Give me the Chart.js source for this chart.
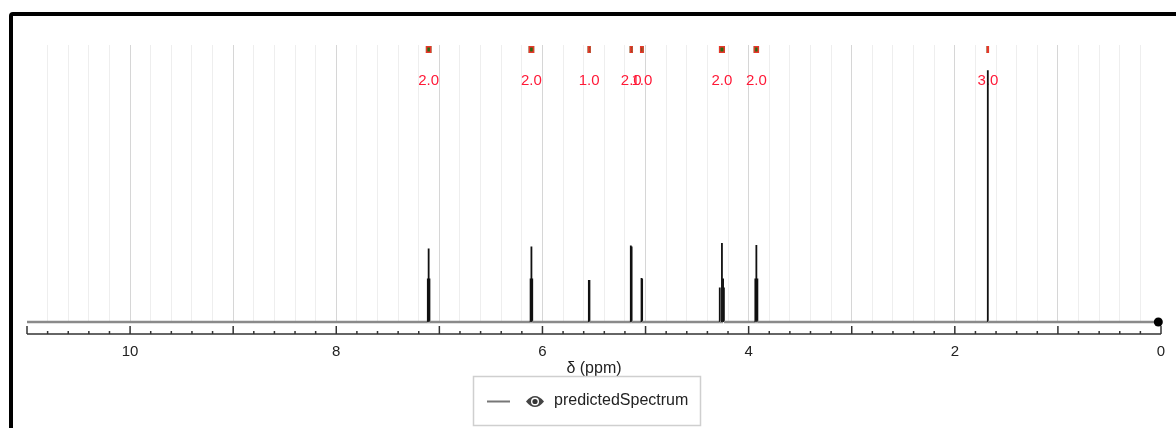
<!DOCTYPE html>
<html>
<head>
<meta charset="utf-8">
<script src="https://cdn.jsdelivr.net/npm/chart.js@4.4.1/dist/chart.umd.min.js"></script>
<style>
  html, body { margin: 0; padding: 0; background: #fff; overflow: hidden; }
  #frame {
    position: absolute; left: 9px; top: 12px; width: 1250px; height: 500px;
    border: 4px solid #000; border-radius: 4px;
  }
  #nmr { position: absolute; left: 0; top: 0; z-index: 1; }
</style>
</head>
<body>
<div id="frame"></div>
<canvas id="nmr" width="1176" height="428"></canvas>
<script>
// predicted 1H spectrum, sticks (ppm / relative intensity)
const peakPpm = [7.112, 7.104, 7.096, 6.115, 6.107, 6.099, 5.550, 5.544, 5.143, 5.135, 5.039, 5.033,
  4.280, 4.259, 4.248, 4.240, 3.935, 3.925, 3.915, 1.680];
const peakHeight = [0.173, 0.292, 0.173, 0.173, 0.300, 0.173, 0.167, 0.167, 0.304, 0.300, 0.175, 0.172,
  0.137, 0.314, 0.173, 0.137, 0.173, 0.306, 0.173, 1.000];

// integration ranges + values
const integralFrom = [7.131, 6.134, 5.562, 5.154, 5.054, 4.288, 3.951, 1.692];
const integralTo = [7.077, 6.080, 5.532, 5.124, 5.018, 4.230, 3.899, 1.668];
const integralLabel = ["2.0", "2.0", "1.0", "2.0", "1.0", "2.0", "2.0", "3.0"];

const ppmStart = 11;
const ppmEnd = 0.026; // reference dot
const seriesName = "predictedSpectrum";
const axisTitle = "δ (ppm)";

const FONT = "'Liberation Sans', Arial, sans-serif";

// build stick spectrum from the peaks
const points = [{ x: ppmStart, y: 0 }];
peakPpm.forEach((p, i) => {
  points.push({ x: p, y: 0 }, { x: p, y: peakHeight[i] }, { x: p, y: 0 });
});
points.push({ x: ppmEnd, y: 0 });
const lastIdx = points.length - 1;

const integralPlugin = {
  id: "integrals",
  beforeDatasetsDraw(chart) {
    const { ctx, scales: { x } } = chart;
    ctx.save();
    integralFrom.forEach((f, i) => {
      const x1 = x.getPixelForValue(f);
      const x2 = x.getPixelForValue(integralTo[i]);
      ctx.fillStyle = "#2a6b12";
      ctx.strokeStyle = "#e8362a";
      ctx.lineWidth = 1.5;
      ctx.fillRect(x1, 46, x2 - x1, 7);
      ctx.strokeRect(x1 + 0.75, 46.75, x2 - x1 - 1.5, 5.5);
      ctx.fillStyle = "rgb(255,25,55)";
      ctx.font = "15px " + FONT;
      ctx.textAlign = "center";
      ctx.textBaseline = "middle";
      ctx.fillText(integralLabel[i], (x1 + x2) / 2, 81);
    });
    ctx.restore();
  },
  afterDraw(chart) {
    const { ctx, scales: { x } } = chart;
    ctx.save();
    // axis line with inward ticks
    const y0 = 334;
    ctx.strokeStyle = "#333";
    ctx.lineWidth = 1.5;
    ctx.beginPath();
    ctx.moveTo(x.left, y0);
    ctx.lineTo(x.right, y0);
    ctx.stroke();
    x.ticks.forEach((t) => {
      const px = x.getPixelForValue(t.value);
      const major = Math.abs(t.value - Math.round(t.value)) < 1e-6;
      ctx.beginPath();
      ctx.moveTo(px, y0);
      ctx.lineTo(px, y0 - (major ? 8 : 3));
      ctx.stroke();
    });
    // axis title
    ctx.fillStyle = "#222";
    ctx.font = "16px " + FONT;
    ctx.textAlign = "center";
    ctx.textBaseline = "middle";
    ctx.fillText(axisTitle, (x.left + x.right) / 2, 369);

    // legend box
    ctx.strokeStyle = "#cfcfcf";
    ctx.lineWidth = 1.5;
    ctx.strokeRect(473.5, 376.5, 227, 49);
    ctx.strokeStyle = "#777";
    ctx.lineWidth = 2;
    ctx.beginPath();
    ctx.moveTo(487, 401.5);
    ctx.lineTo(510, 401.5);
    ctx.stroke();
    // eye icon
    const cx = 535, cy = 401.5;
    ctx.fillStyle = "#444";
    ctx.beginPath();
    ctx.moveTo(cx - 9, cy);
    ctx.quadraticCurveTo(cx, cy - 11, cx + 9, cy);
    ctx.quadraticCurveTo(cx, cy + 11, cx - 9, cy);
    ctx.closePath();
    ctx.fill();
    ctx.fillStyle = "#fff";
    ctx.beginPath();
    ctx.arc(cx, cy, 4, 0, Math.PI * 2);
    ctx.fill();
    ctx.fillStyle = "#333";
    ctx.beginPath();
    ctx.arc(cx, cy, 2.6, 0, Math.PI * 2);
    ctx.fill();
    ctx.fillStyle = "#222";
    ctx.textAlign = "left";
    ctx.fillText(seriesName, 554, 401);
    ctx.restore();
  }
};

const ctx = document.getElementById("nmr").getContext("2d");
new Chart(ctx, {
  type: "line",
  data: {
    datasets: [
      {
        label: seriesName,
        data: points,
        borderColor: "#111",
        borderWidth: 1.8,
        tension: 0,
        clip: false,
        pointRadius: (c) => (c.dataIndex === lastIdx ? 4.5 : 0),
        pointBackgroundColor: "#000",
        pointBorderWidth: 0,
        segment: {
          borderColor: (c) => (c.p0.parsed.y === 0 && c.p1.parsed.y === 0 ? "#8a8a8a" : "#111"),
          borderWidth: (c) => (c.p0.parsed.y === 0 && c.p1.parsed.y === 0 ? 2.5 : 1.8),
        },
      },
    ],
  },
  options: {
    responsive: false,
    animation: false,
    layout: { padding: { left: 27, right: 15, top: 45, bottom: 0 } },
    scales: {
      x: {
        type: "linear",
        reverse: true,
        min: 0,
        max: ppmStart,
        afterFit: (s) => {
          s.height = 106;
          s.paddingLeft = 0;
          s.paddingRight = 0;
        },
        border: { display: false },
        grid: {
          drawTicks: false,
          lineWidth: 1,
          color: (c) => {
            const v = c.tick ? c.tick.value : 0;
            if (v < 0.01 || v > ppmStart - 0.01) return "rgba(0,0,0,0)";
            return Math.abs(v - Math.round(v)) < 1e-6 ? "#d6d6d6" : "#eeeeee";
          },
        },
        ticks: {
          stepSize: 0.2,
          autoSkip: false,
          maxRotation: 0,
          padding: 21,
          color: "#222",
          font: { family: FONT, size: 15 },
          callback: (v) => {
            const r = Math.round(v);
            if (Math.abs(v - r) < 1e-6 && r % 2 === 0 && r <= 10) return String(r);
            return "";
          },
        },
      },
      y: { display: false, min: 0, max: 1.1 },
    },
    plugins: { legend: { display: false }, tooltip: { enabled: false } },
  },
  plugins: [integralPlugin],
});
</script>
</body>
</html>
